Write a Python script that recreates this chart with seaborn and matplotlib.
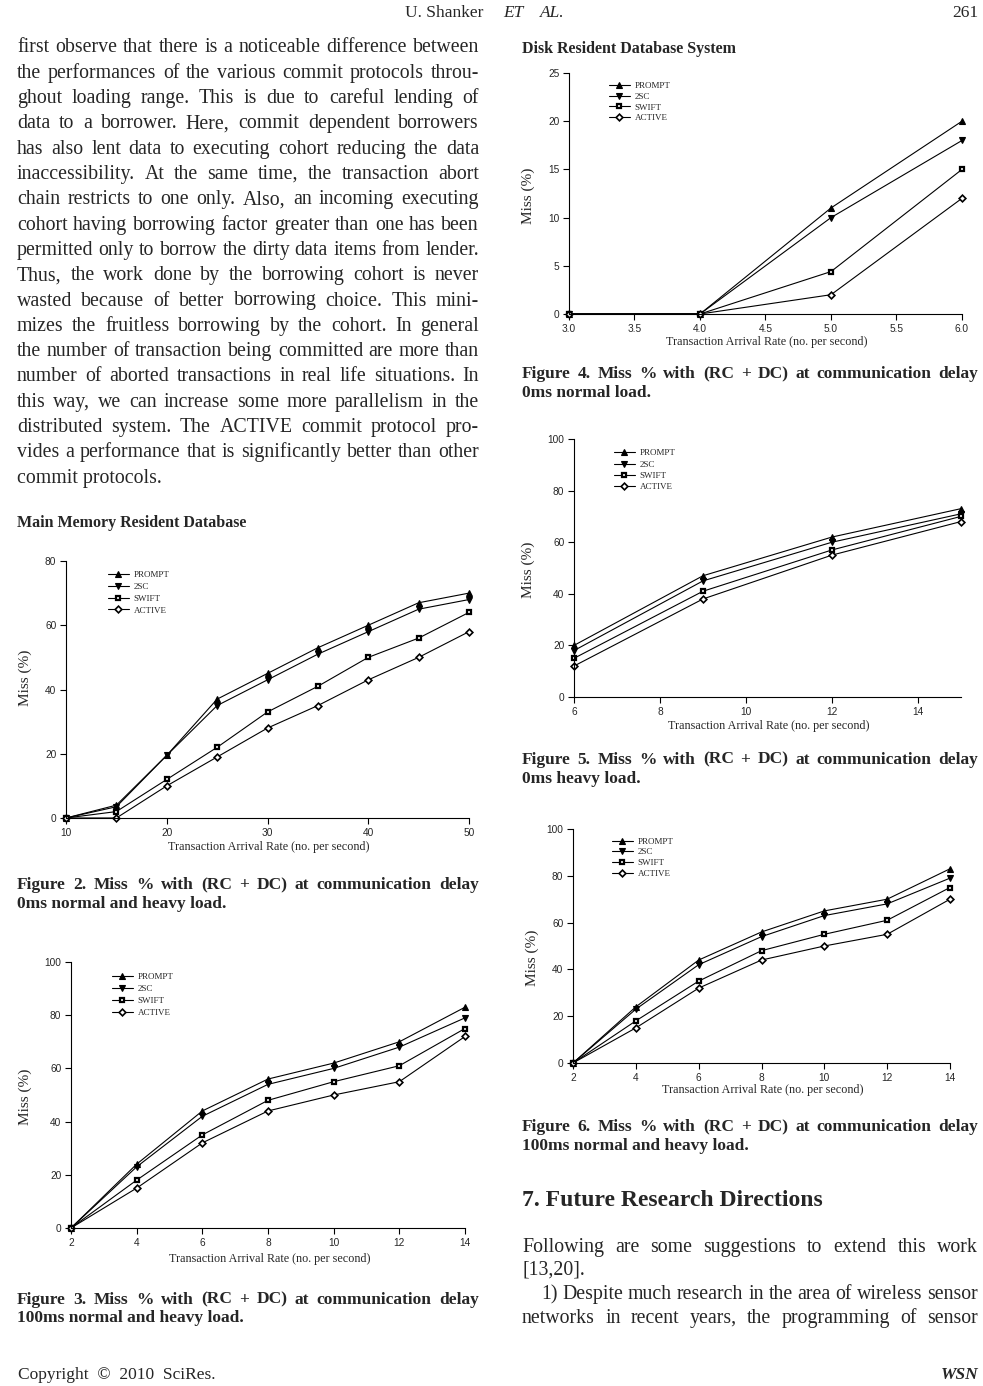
import matplotlib
matplotlib.use('Agg')
import matplotlib.pyplot as plt
import seaborn as sns

# chart data
protocols = ['PROMPT', '2SC', 'SWIFT', 'ACTIVE']

fig2_x = [10, 15, 20, 25, 30, 35, 40, 45, 50]
fig2_prompt = [0, 4, 19.5, 37, 45, 53, 60, 67, 70]
fig2_2sc = [0, 3.5, 19.5, 35, 43, 51, 58, 65, 68]
fig2_swift = [0, 2, 12, 22, 33, 41, 50, 56, 64]
fig2_active = [0, 0, 10, 19, 28, 35, 43, 50, 58]

fig3_x = [2, 4, 6, 8, 10, 12, 14]
fig3_prompt = [0, 24, 44, 56, 62, 70, 83]
fig3_2sc = [0, 23, 42, 54, 60, 68, 79]
fig3_swift = [0, 18, 35, 48, 55, 61, 75]
fig3_active = [0, 15, 32, 44, 50, 55, 72]

fig4_x = [3, 4, 5, 6]
fig4_prompt = [0, 0, 11, 20]
fig4_2sc = [0, 0, 10, 18]
fig4_swift = [0, 0, 4.4, 15]
fig4_active = [0, 0, 2, 12]

fig5_x = [6, 9, 12, 15]
fig5_prompt = [20, 47, 62, 73]
fig5_2sc = [18, 45, 60, 71]
fig5_swift = [15, 41, 57, 70]
fig5_active = [12, 38, 55, 68]

fig6_x = [2, 4, 6, 8, 10, 12, 14]
fig6_prompt = [0, 24, 44, 56, 65, 70, 83]
fig6_2sc = [0, 23, 42, 54, 63, 68, 79]
fig6_swift = [0, 18, 35, 48, 55, 61, 75]
fig6_active = [0, 15, 32, 44, 50, 55, 70]

body_left = [
    "first observe that there is a noticeable difference between",
    "the performances of the various commit protocols throu-",
    "ghout loading range. This is due to careful lending of",
    "data to a borrower. Here, commit dependent borrowers",
    "has also lent data to executing cohort reducing the data",
    "inaccessibility. At the same time, the transaction abort",
    "chain restricts to one only. Also, an incoming executing",
    "cohort having borrowing factor greater than one has been",
    "permitted only to borrow the dirty data items from lender.",
    "Thus, the work done by the borrowing cohort is never",
    "wasted because of better borrowing choice. This mini-",
    "mizes the fruitless borrowing by the cohort. In general",
    "the number of transaction being committed are more than",
    "number of aborted transactions in real life situations. In",
    "this way, we can increase some more parallelism in the",
    "distributed system. The ACTIVE commit protocol pro-",
    "vides a performance that is significantly better than other",
    "commit protocols.",
]

W, H = 983, 1386

sns.set_style('ticks')
plt.rcParams['font.family'] = ['Liberation Serif', 'DejaVu Serif']

fig = plt.figure(figsize=(W / 100, H / 100), dpi=100)
renderer = fig.canvas.get_renderer()


def fx(px):
    return px / W


def fy(py):
    return 1 - py / H


def text_line(s, x0, x1, y, size, weight='normal', justify=True):
    if not justify:
        fig.text(fx(x0), fy(y), s, fontsize=size, fontweight=weight, va='baseline', ha='left')
        return
    words = s.split()
    ts = [fig.text(0, fy(y), w, fontsize=size, fontweight=weight, va='baseline', ha='left') for w in words]
    widths = [t.get_window_extent(renderer).width for t in ts]
    gap = (x1 - x0 - sum(widths)) / (len(words) - 1)
    x = x0
    for t, w in zip(ts, widths):
        t.set_x(fx(x))
        x += w + gap


line_styles = [
    dict(marker='^', markersize=4.9, markerfacecolor='black', markeredgewidth=0.8),
    dict(marker='v', markersize=4.9, markerfacecolor='black', markeredgewidth=0.8),
    dict(marker='s', markersize=3.4, markerfacecolor='white', markeredgewidth=1.6),
    dict(marker='D', markersize=3.4, markerfacecolor='white', markeredgewidth=1.2),
]


def draw_chart(rect, x, series, xticks, xlabels, yticks, xlim, ylim, leg, xl_pos, yl_pos):
    l, r, t, b = rect
    ax = fig.add_axes([fx(l), fy(b), (r - l) / W, (b - t) / H])
    for name, vals, st in zip(protocols, series, line_styles):
        sns.lineplot(x=x, y=vals, ax=ax, color='black', linewidth=0.8, label=name,
                     markeredgecolor='black', clip_on=False, **st)
    ax.set_xlim(*xlim)
    ax.set_ylim(*ylim)
    ax.set_xticks(xticks, labels=xlabels, fontfamily='Liberation Sans', fontsize=7.3)
    ax.set_yticks(yticks, labels=[str(v) for v in yticks], fontfamily='Liberation Sans', fontsize=7.3)
    ax.tick_params(direction='out', length=4, width=0.8, color='black')
    ax.tick_params(axis='x', pad=3.5)
    ax.tick_params(axis='y', pad=3)
    sns.despine(ax=ax)
    for sp in ['left', 'bottom']:
        ax.spines[sp].set_linewidth(0.8)
        ax.spines[sp].set_color('black')
    ax.set_xlabel('Transaction Arrival Rate (no. per second)', fontsize=8.7)
    ax.set_ylabel('Miss (%)', fontsize=11)
    ax.xaxis.label.set_va('center')
    ax.yaxis.label.set_va('center')
    ax.xaxis.set_label_coords(*xl_pos)
    ax.yaxis.set_label_coords(*yl_pos)
    lx, ly, ls = leg
    ax.legend(loc='upper left', bbox_to_anchor=(fx(lx), fy(ly - 5)), bbox_transform=fig.transFigure,
              frameon=False, borderpad=0, borderaxespad=0, handlelength=2.3, handletextpad=0.55,
              labelspacing=ls, prop={'family': 'Liberation Serif', 'size': 6.5})
    return ax


# Figure 2
draw_chart((66, 469, 561, 818), fig2_x, [fig2_prompt, fig2_2sc, fig2_swift, fig2_active],
           [10, 20, 30, 40, 50], ['10', '20', '30', '40', '50'], [0, 20, 40, 60, 80],
           (10, 50), (0, 80), (108, 576, 0.38), (0.503, -0.112), (-0.10, 0.547))
# Figure 3
draw_chart((71, 465, 962, 1228), fig3_x, [fig3_prompt, fig3_2sc, fig3_swift, fig3_active],
           fig3_x, [str(v) for v in fig3_x], [0, 20, 40, 60, 80, 100],
           (2, 14), (0, 100), (112, 978, 0.4), (0.505, -0.118), (-0.117, 0.494))
# Figure 4
draw_chart((569, 962, 73, 314), fig4_x, [fig4_prompt, fig4_2sc, fig4_swift, fig4_active],
           [3.0, 3.5, 4.0, 4.5, 5.0, 5.5, 6.0], ['3.0', '3.5', '4.0', '4.5', '5.0', '5.5', '6.0'],
           [0, 5, 10, 15, 20, 25], (3, 6), (0, 25), (609, 87, 0.26), (0.504, -0.115), (-0.104, 0.49))
# Figure 5
draw_chart((574, 961, 439, 697), fig5_x, [fig5_prompt, fig5_2sc, fig5_swift, fig5_active],
           [6, 8, 10, 12, 14], ['6', '8', '10', '12', '14'], [0, 20, 40, 60, 80, 100],
           (6, 15), (0, 100), (614, 454, 0.34), (0.504, -0.112), (-0.118, 0.492))
# Figure 6
draw_chart((573, 950, 829, 1063), fig6_x, [fig6_prompt, fig6_2sc, fig6_swift, fig6_active],
           fig6_x, [str(v) for v in fig6_x], [0, 20, 40, 60, 80, 100],
           (2, 14), (0, 100), (612, 842.5, 0.26), (0.504, -0.115), (-0.107, 0.451))

# page header and footer
fig.text(fx(405), fy(17), 'U. Shanker', fontsize=12.5, va='baseline')
fig.text(fx(503), fy(17), 'ET', fontsize=12.5, fontstyle='italic', va='baseline')
fig.text(fx(540), fy(17), 'AL.', fontsize=12.5, fontstyle='italic', va='baseline')
fig.text(fx(978), fy(17), '261', fontsize=12.5, va='baseline', ha='right')
fig.text(fx(18), fy(1379), 'Copyright  \u00a9  2010  SciRes.', fontsize=12.5, va='baseline')
fig.text(fx(978), fy(1379), 'WSN', fontsize=12.5, fontweight='bold', fontstyle='italic',
         va='baseline', ha='right')

# left column body text
LX0, LX1 = 17, 479
for i, s in enumerate(body_left):
    text_line(s, LX0, LX1, 52.5 + i * 25.3, 14.3, justify=(i < len(body_left) - 1))

text_line('Main Memory Resident Database', LX0, LX1, 527, 11.5, weight='bold', justify=False)
text_line('Figure 2. Miss % with (RC + DC) at communication delay', LX0, LX1, 889, 12.5, weight='bold')
text_line('0ms normal and heavy load.', LX0, LX1, 908, 12.5, weight='bold', justify=False)
text_line('Figure 3. Miss % with (RC + DC) at communication delay', LX0, LX1, 1303.5, 12.5, weight='bold')
text_line('100ms normal and heavy load.', LX0, LX1, 1322.5, 12.5, weight='bold', justify=False)

# right column
RX0, RX1 = 522, 978
text_line('Disk Resident Database System', RX0, RX1, 53, 11.5, weight='bold', justify=False)
text_line('Figure 4. Miss % with (RC + DC) at communication delay', RX0, RX1, 378, 12.5, weight='bold')
text_line('0ms normal load.', RX0, RX1, 397, 12.5, weight='bold', justify=False)
text_line('Figure 5. Miss % with (RC + DC) at communication delay', RX0, RX1, 763.5, 12.5, weight='bold')
text_line('0ms heavy load.', RX0, RX1, 782.5, 12.5, weight='bold', justify=False)
text_line('Figure 6. Miss % with (RC + DC) at communication delay', RX0, RX1, 1131, 12.5, weight='bold')
text_line('100ms normal and heavy load.', RX0, RX1, 1150, 12.5, weight='bold', justify=False)
text_line('7. Future Research Directions', RX0, RX1, 1206, 17, weight='bold', justify=False)
text_line('Following are some suggestions to extend this work', RX0, RX1, 1252, 14.3)
text_line('[13,20].', RX0, RX1, 1275, 14.3, justify=False)
text_line('1) Despite much research in the area of wireless sensor', 541, RX1, 1299, 14.3)
text_line('networks in recent years, the programming of sensor', RX0, RX1, 1323, 14.3)

fig.savefig('out.png', dpi=100, facecolor='white')
